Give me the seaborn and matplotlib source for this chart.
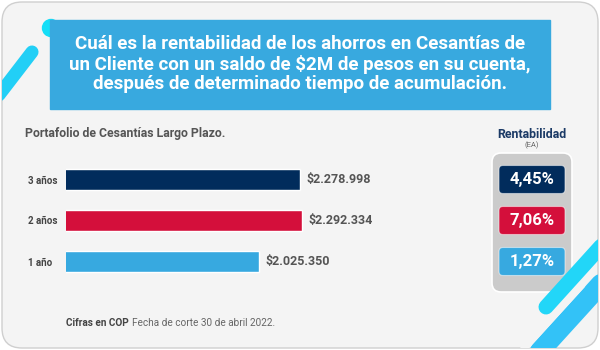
import pandas as pd
import numpy as np
import matplotlib.pyplot as plt
import seaborn as sns
from matplotlib.patches import FancyBboxPatch, Rectangle, Circle

# data
periodos = ["3 años", "2 años", "1 año"]
saldos = [2278998, 2292334, 2025350]
rentabilidad = ["4,45%", "7,06%", "1,27%"]
colores = ["#012c5c", "#d40f3b", "#37a9e0"]

titulo = ("Cuál es la rentabilidad de los ahorros en Cesantías de\n"
          "un Cliente con un saldo de $2M de pesos en su cuenta,\n"
          "después de determinado tiempo de acumulación.")
subtitulo = "Portafolio de Cesantías Largo Plazo."
nota_bold = "Cifras en COP"
nota = "Fecha de corte 30 de abril 2022."

df = pd.DataFrame({"periodo": periodos, "saldo": saldos})

sns.set_theme(style="white")
plt.rcParams["font.family"] = ["Roboto", "DejaVu Sans"]

fig = plt.figure(figsize=(6, 3.5), dpi=100, facecolor="white")

# background axes in pixel coordinates
bg = fig.add_axes([0, 0, 1, 1])
bg.set_xlim(0, 600)
bg.set_ylim(350, 0)
bg.axis("off")

card = FancyBboxPatch((2, 2), 596, 346, boxstyle="round,pad=0,rounding_size=20",
                      fc="#f4f4f4", ec="#cfcfcf", lw=1)
bg.add_patch(card)

# decorative strokes
deco = [
    ((32, -8), (52, 104), "#22cff6", 9.4),
    ((546, 660), (307, 181), "#22d6f8", 10.8),
    ((470, 660), (428, 219), "#33c2f7", 14.4),
]
for xs, ys, c, lw in deco:
    ln, = bg.plot(xs, ys, color=c, lw=lw, solid_capstyle="round")
    ln.set_clip_path(card)
ln, = bg.plot([582, 500], [285, 375], color="#f4f4f4", lw=5, solid_capstyle="round")
ln.set_clip_path(card)
bg.add_patch(Circle((51, 28), 8.5, color="#14def7"))

# title box
bg.add_patch(Rectangle((50, 20), 500, 89, color="#38a9df"))
bg.text(300, 64, titulo, ha="center", va="center", color="white",
        fontsize=13.5, fontweight="bold", linespacing=1.1)
bg.text(25, 134, subtitulo, ha="left", va="center", color="#555555",
        fontsize=8.8, fontweight="bold")

# footer
t1 = bg.text(66, 323, nota_bold, ha="left", va="center", color="#444444",
             fontsize=7.2, fontweight="bold")
bg.annotate(nota, xy=(1, 0.5), xycoords=t1, xytext=(2.5, 0), textcoords="offset points",
            ha="left", va="center", color="#666666", fontsize=7.2)

# bar chart
ax = fig.add_axes([66 / 600, 1 - 282 / 350, 414 / 600, 123 / 350])
sns.barplot(data=df, x="saldo", y="periodo", hue="periodo", palette=colores,
            legend=False, width=0.51, saturation=1, ax=ax)
ax.set_xlim(830000, 3390000)
ax.set_ylim(2.5, -0.5)
ax.patch.set_alpha(0)
sns.despine(ax=ax, left=True, bottom=True)
ax.set_xticks([])
ax.set_xlabel("")
ax.set_ylabel("")
ax.tick_params(axis="y", length=0, pad=27.4, labelsize=7, labelcolor="#444444")
for lab in ax.get_yticklabels():
    lab.set_ha("left")
    lab.set_fontweight("bold")
for cont in ax.containers:
    labels = ["$" + f"{v:,.0f}".replace(",", ".") for v in cont.datavalues]
    ax.bar_label(cont, labels=labels, padding=4.3, fontsize=9,
                 fontweight="bold", color="#555555")

# rentabilidad panel
bg.text(532, 134, "Rentabilidad", ha="center", va="center", color="#1b3a66",
        fontsize=8.9, fontweight="bold")
bg.text(532, 145, "(EA)", ha="center", va="center", color="#666666", fontsize=5.5)
bg.add_patch(FancyBboxPatch((492, 153), 80, 139, boxstyle="round,pad=0,rounding_size=9",
                            fc="#cbcbcb", ec="white", lw=1.2))
inv = bg.transData.inverted()
for i, (r, c) in enumerate(zip(rentabilidad, colores)):
    yc = inv.transform(ax.transData.transform((1000000, i)))[1]
    bg.add_patch(FancyBboxPatch((499, yc - 14), 66, 28,
                                boxstyle="round,pad=0,rounding_size=4",
                                fc=c, ec=(1, 1, 1, 0.5), lw=0.8))
    bg.text(532, yc, r, ha="center", va="center", color="white",
            fontsize=12, fontweight="bold")

fig.savefig("out.png", dpi=100)
